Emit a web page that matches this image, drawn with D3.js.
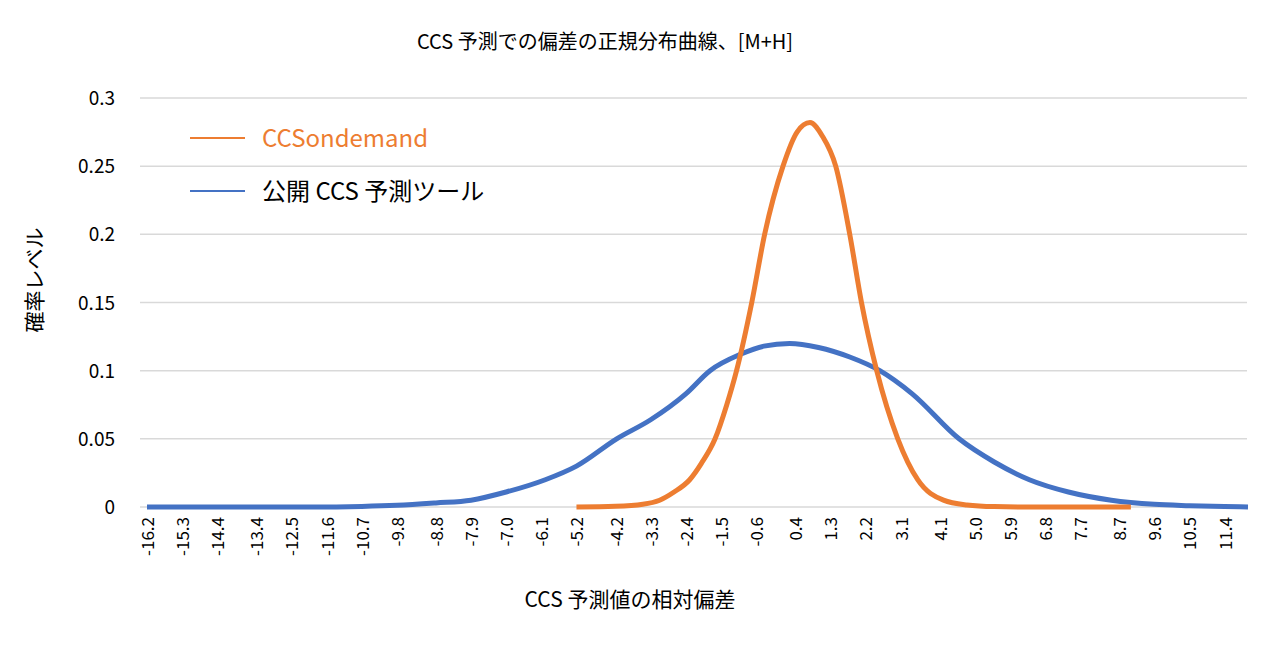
<!DOCTYPE html>
<html><head><meta charset="utf-8">
<script src="https://cdn.jsdelivr.net/npm/d3@7"></script>
<style>body{margin:0;background:#fff}text{font-family:"Noto Sans CJK JP","Liberation Sans",sans-serif}</style>
</head><body><svg id="c" width="1280" height="647"></svg>
<script>
const xTicks=[-16.2,-15.3,-14.4,-13.4,-12.5,-11.6,-10.7,-9.8,-8.8,-7.9,-7.0,-6.1,-5.2,-4.2,-3.3,-2.4,-1.5,-0.6,0.4,1.3,2.2,3.1,4.1,5.0,5.9,6.8,7.7,8.7,9.6,10.5,11.4];
const yTicks=[0,0.05,0.1,0.15,0.2,0.25,0.3];
const blueX=[-16.2,-12.0,-10.7,-9.8,-8.8,-7.9,-7.0,-6.0,-5.2,-4.17,-3.3,-2.4,-1.78,-1.0,-0.4,0.26,1.0,1.8,2.57,3.4,4.6,5.5,6.4,7.4,8.5,9.6,10.5,11.4,12.0];
const blueY=[0,0,0.0004,0.0012,0.003,0.005,0.011,0.02,0.03,0.05,0.064,0.083,0.1,0.112,0.118,0.12,0.117,0.11,0.1,0.083,0.05,0.033,0.02,0.011,0.005,0.002,0.001,0.0003,0];
const orangeX=[-5.2,-4.2,-3.5,-3.07,-2.7,-2.3,-2.0,-1.65,-1.35,-1.1,-0.71,-0.38,0.09,0.45,0.78,1.1,1.44,1.8,2.1,2.49,3.03,3.54,4.2,4.8,5.5,6.5,9.0];
const orangeY=[0,0.0005,0.002,0.005,0.011,0.02,0.032,0.05,0.075,0.1,0.15,0.2,0.25,0.275,0.282,0.272,0.25,0.2,0.15,0.1,0.05,0.02,0.005,0.0015,0.0003,0,0];
const seriesNames=["CCSondemand","公開 CCS 予測ツール"];
const series=[{name:seriesNames[0],xs:orangeX,ys:orangeY,color:"#ed7d31",tcolor:"#ed7d31"},{name:seriesNames[1],xs:blueX,ys:blueY,color:"#4472c4",tcolor:"#000"}];
const svg=d3.select("#c");
const x=d3.scaleLinear().domain([-16.2,12.0]).range([147,1248]);
const y=d3.scaleLinear().domain([0,0.3]).range([507,98]);
svg.append("g").selectAll("line").data(yTicks).join("line")
 .attr("x1",140).attr("x2",1247).attr("y1",d=>y(d)).attr("y2",d=>y(d)).attr("stroke","#d9d9d9").attr("stroke-width",1.5);
svg.append("g").selectAll("text").data(yTicks).join("text")
 .attr("x",115).attr("y",d=>y(d)+7).attr("text-anchor","end").attr("font-size",19).text(d=>d);
svg.append("g").selectAll("text").data(xTicks).join("text")
 .attr("transform",d=>`translate(${x(d)+7},517) rotate(-90)`).attr("text-anchor","end").attr("font-size",17).text(d=>d.toFixed(1));
const line=d3.line().x(d=>x(d[0])).y(d=>y(d[1])).curve(d3.curveMonotoneX);
series.slice().reverse().forEach(s=>{
 svg.append("path").attr("d",line(d3.zip(s.xs,s.ys))).attr("fill","none").attr("stroke",s.color).attr("stroke-width",5).attr("stroke-linejoin","round");
});
series.forEach((s,i)=>{
 const ly=138+i*53;
 svg.append("line").attr("x1",190).attr("x2",245).attr("y1",ly).attr("y2",ly).attr("stroke",s.color).attr("stroke-width",2);
 svg.append("text").attr("x",262).attr("y",ly+9).attr("font-size",24).attr("fill",s.tcolor).text(s.name);
});
svg.append("text").attr("x",605).attr("y",49).attr("text-anchor","middle").attr("font-size",20).text("CCS 予測での偏差の正規分布曲線、[M+H]");
svg.append("text").attr("x",630).attr("y",607).attr("text-anchor","middle").attr("font-size",21).text("CCS 予測値の相対偏差");
svg.append("text").attr("transform","translate(42,280) rotate(-90)").attr("text-anchor","middle").attr("font-size",21).text("確率レベル");
</script></body></html>
